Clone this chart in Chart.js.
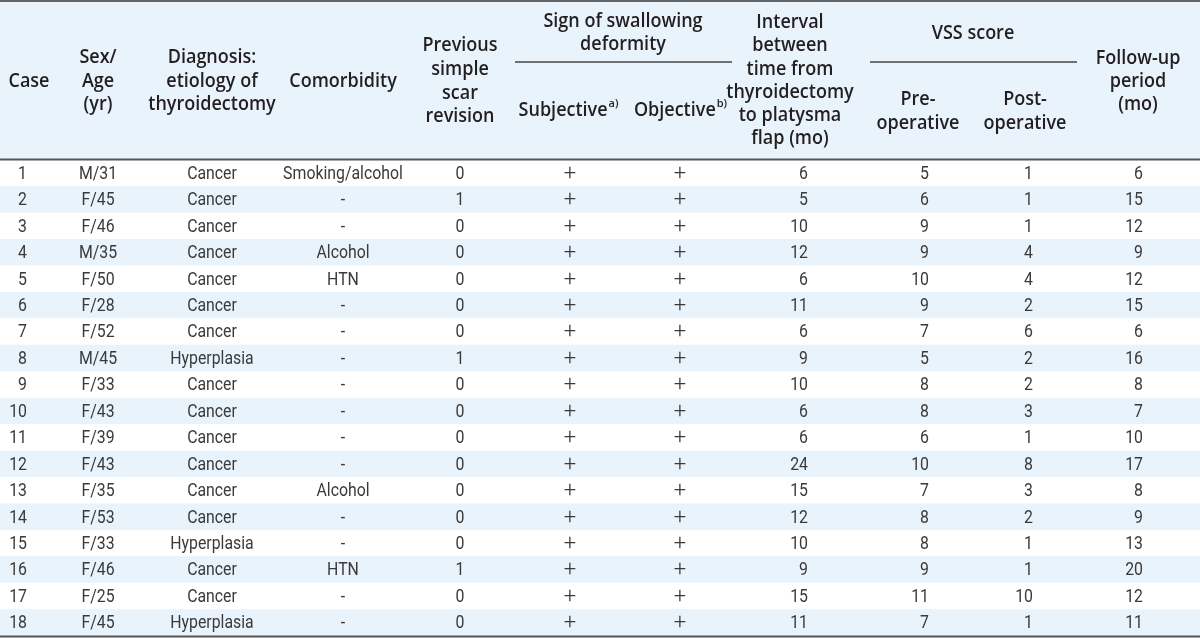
<!DOCTYPE html>
<html>
<head>
<meta charset="utf-8">
<script src="https://cdn.jsdelivr.net/npm/chart.js@4/dist/chart.umd.min.js"></script>
<style>
html,body{margin:0;padding:0;background:#fff;overflow:hidden;}
canvas{display:block;}
</style>
</head>
<body>
<canvas id="c" width="1200" height="638"></canvas>
<script>
// ---- data ----
const cases = ["1","2","3","4","5","6","7","8","9","10","11","12","13","14","15","16","17","18"];
const sexAge = ["M/31","F/45","F/46","M/35","F/50","F/28","F/52","M/45","F/33","F/43","F/39","F/43","F/35","F/53","F/33","F/46","F/25","F/45"];
const diagnosis = ["Cancer","Cancer","Cancer","Cancer","Cancer","Cancer","Cancer","Hyperplasia","Cancer","Cancer","Cancer","Cancer","Cancer","Cancer","Hyperplasia","Cancer","Cancer","Hyperplasia"];
const comorbidity = ["Smoking/alcohol","-","-","Alcohol","HTN","-","-","-","-","-","-","-","Alcohol","-","-","HTN","-","-"];
const previousRevision = [0,1,0,0,0,0,0,1,0,0,0,0,0,0,0,1,0,0];
const subjective = ["+","+","+","+","+","+","+","+","+","+","+","+","+","+","+","+","+","+"];
const objective = ["+","+","+","+","+","+","+","+","+","+","+","+","+","+","+","+","+","+"];
const intervalMo = [6,5,10,12,6,11,6,9,10,6,6,24,15,12,10,9,15,11];
const vssPre = [5,6,9,9,10,9,7,5,8,8,6,10,7,8,8,9,11,7];
const vssPost = [1,1,1,4,4,2,6,2,2,3,1,8,3,2,1,1,10,1];
const followUp = [6,15,12,9,12,15,6,16,8,7,10,17,8,9,13,20,12,11];

// ---- layout / style ----
const BLUE = '#e9f3fc';
const BODY_FONT = '18px Roboto';
const PLUS_FONT = '300 22px Roboto';
const BODY_COLOR = '#3a3a3a';
const HEAD_FONT = '600 20px "Open Sans"';
const SUP_FONT = '600 11px "Open Sans"';
const HEAD_SX = 0.9;
const HEAD_COLOR = '#231f20';
const columns = [
  {vals: cases, x: 27, align: 'right'},
  {vals: sexAge, x: 98, align: 'center'},
  {vals: diagnosis, x: 212, align: 'center'},
  {vals: comorbidity, x: 343, align: 'center'},
  {vals: previousRevision, x: 460, align: 'center'},
  {vals: subjective, x: 570, align: 'center', font: PLUS_FONT},
  {vals: objective, x: 680, align: 'center', font: PLUS_FONT},
  {vals: intervalMo, x: 808, align: 'right'},
  {vals: vssPre, x: 929, align: 'right'},
  {vals: vssPost, x: 1033, align: 'right'},
  {vals: followUp, x: 1143, align: 'right'}
];
const headers = [
  {lines:["Case"], x:29, y:[81]},
  {lines:["Sex/","Age","(yr)"], x:98, y:[57,81,104]},
  {lines:["Diagnosis:","etiology of","thyroidectomy"], x:212, y:[57,81,104]},
  {lines:["Comorbidity"], x:343, y:[81]},
  {lines:["Previous","simple","scar","revision"], x:460, y:[45,69,93,116]},
  {lines:["Sign of swallowing","deformity"], x:623, y:[21,44]},
  {lines:["Interval","between","time from","thyroidectomy","to platysma","flap (mo)"], x:790, y:[22,45,69,92,115,138]},
  {lines:["VSS score"], x:973, y:[33]},
  {lines:["Pre-","operative"], x:918, y:[99,123]},
  {lines:["Post-","operative"], x:1025, y:[99,123]},
  {lines:["Follow-up","period","(mo)"], x:1138, y:[58,81,104]}
];
const supHeaders = [
  {text:"Subjective", sup:"a)", x:568, y:110},
  {text:"Objective", sup:"b)", x:680, y:110}
];

function drawText(ctx, s, x, y, font, color, sx, align){
  ctx.save();
  ctx.font = font; ctx.fillStyle = color; ctx.textBaseline = 'middle'; ctx.textAlign = align;
  ctx.translate(x, y); ctx.scale(sx, 1);
  ctx.fillText(String(s), 0, 0);
  ctx.restore();
}

const tablePlugin = {
  id: 'tablePlugin',
  beforeDraw(chart){
    const ctx = chart.ctx;
    const top = chart.chartArea.top;
    ctx.save();
    ctx.fillStyle = '#fff';
    ctx.fillRect(0, 0, chart.width, chart.height);
    ctx.fillStyle = BLUE;
    ctx.fillRect(0, 0, chart.width, top);
    ctx.restore();
  },
  afterDatasetsDraw(chart){
    const ctx = chart.ctx;
    const xs = chart.scales.x, ys = chart.scales.y;
    const area = chart.chartArea;
    // body cells
    for (let r = 0; r < cases.length; r++){
      const y = ys.getPixelForValue(r) + 1;
      columns.forEach(c => {
        drawText(ctx, c.vals[r], xs.getPixelForValue(c.x), y, c.font || BODY_FONT, BODY_COLOR, c.font ? 1 : 0.88, c.align);
      });
    }
    // header text
    headers.forEach(h => {
      h.lines.forEach((l, i) => drawText(ctx, l, xs.getPixelForValue(h.x), h.y[i], HEAD_FONT, HEAD_COLOR, HEAD_SX, 'center'));
    });
    supHeaders.forEach(h => {
      ctx.save();
      ctx.font = HEAD_FONT;
      const w1 = ctx.measureText(h.text).width * HEAD_SX;
      ctx.font = SUP_FONT;
      const w2 = ctx.measureText(h.sup).width;
      ctx.restore();
      const cx = xs.getPixelForValue(h.x);
      const left = cx - (w1 + w2) / 2;
      drawText(ctx, h.text, left, h.y, HEAD_FONT, HEAD_COLOR, HEAD_SX, 'left');
      drawText(ctx, h.sup, left + w1 + 1, h.y - 6, SUP_FONT, HEAD_COLOR, 1, 'left');
    });
    // rules
    ctx.save();
    ctx.strokeStyle = '#333'; ctx.lineWidth = 1.5;
    ctx.beginPath(); ctx.moveTo(0, 1); ctx.lineTo(chart.width, 1); ctx.stroke();
    ctx.strokeStyle = '#555'; ctx.lineWidth = 2;
    ctx.beginPath(); ctx.moveTo(0, area.top - 0.5); ctx.lineTo(chart.width, area.top - 0.5); ctx.stroke();
    ctx.beginPath(); ctx.moveTo(0, area.bottom + 0.5); ctx.lineTo(chart.width, area.bottom + 0.5); ctx.stroke();
    ctx.strokeStyle = '#444'; ctx.lineWidth = 1.3;
    ctx.beginPath(); ctx.moveTo(xs.getPixelForValue(515), 62); ctx.lineTo(xs.getPixelForValue(732), 62); ctx.stroke();
    ctx.beginPath(); ctx.moveTo(xs.getPixelForValue(870), 62); ctx.lineTo(xs.getPixelForValue(1077), 62); ctx.stroke();
    ctx.restore();
  }
};

new Chart(document.getElementById('c'), {
  type: 'bar',
  data: {
    labels: cases,
    datasets: [{
      data: cases.map(() => [0, 1200]),
      backgroundColor: cases.map((_, i) => i % 2 === 1 ? BLUE : '#ffffff'),
      borderWidth: 0,
      barPercentage: 1,
      categoryPercentage: 1
    }]
  },
  options: {
    indexAxis: 'y',
    responsive: false,
    devicePixelRatio: 1,
    animation: false,
    layout: {padding: {top: 160, bottom: 2, left: 0, right: 0}},
    plugins: {legend: {display: false}, tooltip: {enabled: false}, title: {display: false}},
    scales: {
      x: {type: 'linear', min: 0, max: 1200, display: false},
      y: {type: 'category', display: false, offset: true}
    }
  },
  plugins: [tablePlugin]
});
</script>
</body>
</html>
